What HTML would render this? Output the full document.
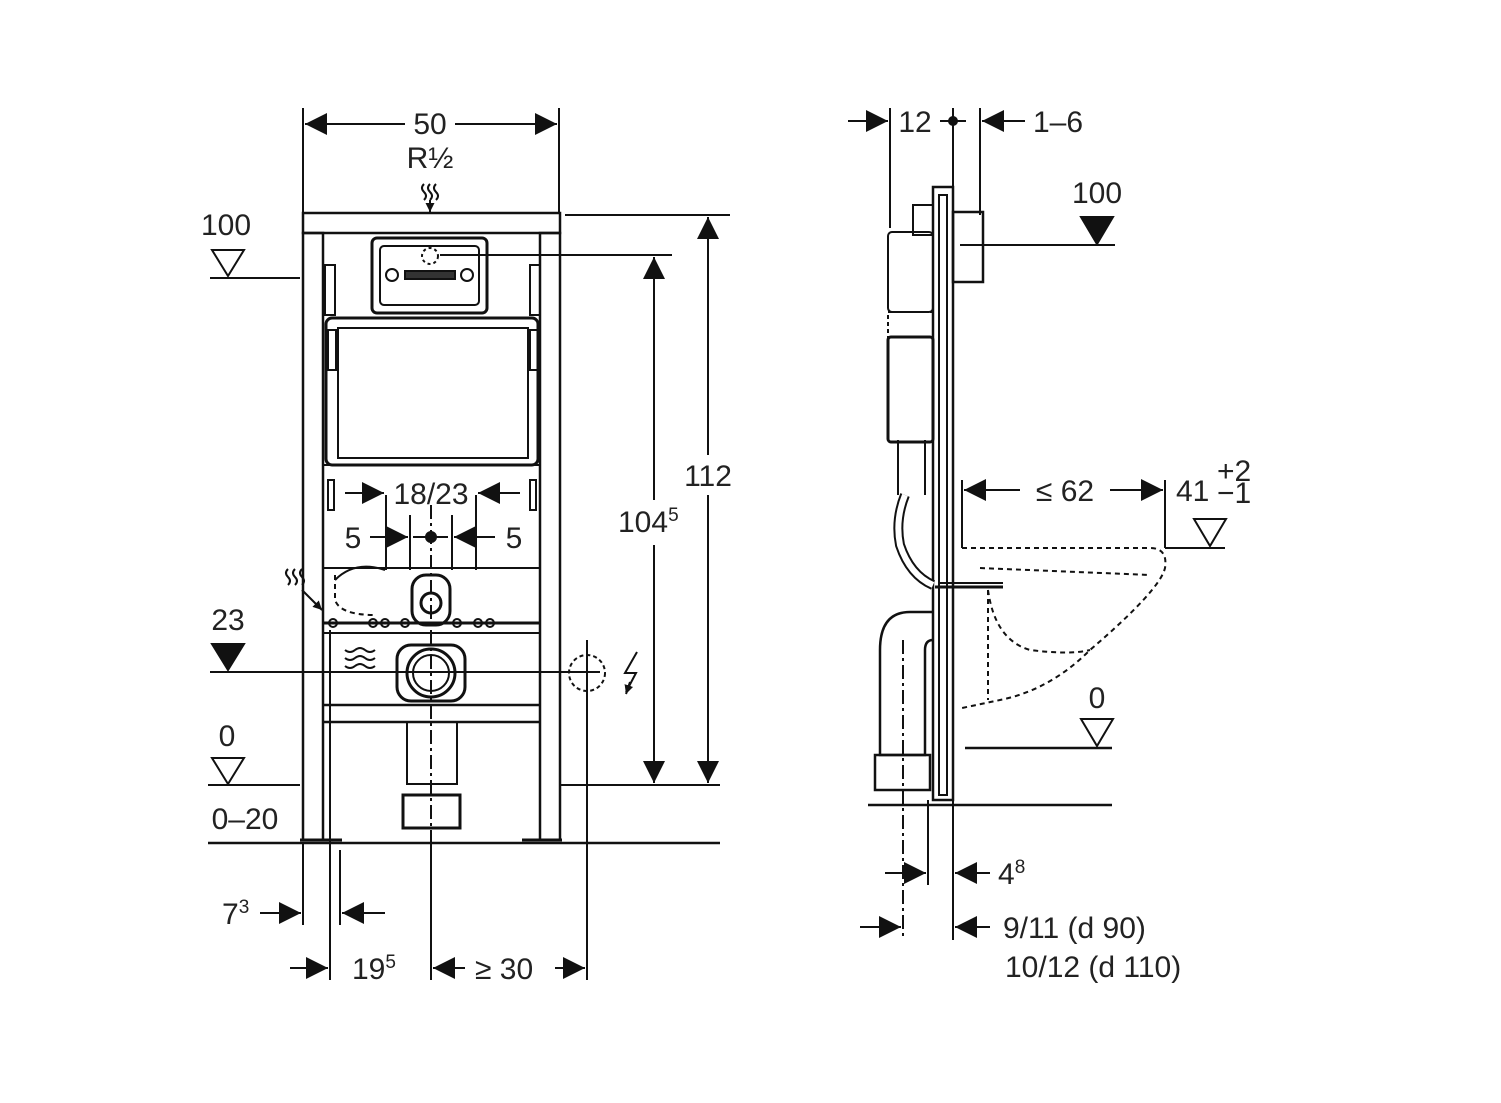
<!DOCTYPE html>
<html><head><meta charset="utf-8"><style>
html,body{margin:0;padding:0;background:#fff;}
svg{display:block}
text{font-family:"Liberation Sans",sans-serif;fill:#222;font-size:30px}
</style></head><body>
<svg width="1501" height="1103" viewBox="0 0 1501 1103" xmlns="http://www.w3.org/2000/svg">
<defs>
<marker id="a" viewBox="0 0 10 10" refX="10" refY="5" markerWidth="9" markerHeight="9" orient="auto-start-reverse" markerUnits="userSpaceOnUse"><path d="M0,0 L10,5 L0,10z" fill="#111"/></marker>
<marker id="b" viewBox="0 0 20 20" refX="20" refY="10" markerWidth="22" markerHeight="22" orient="auto-start-reverse" markerUnits="userSpaceOnUse"><path d="M0,0 L20,10 L0,20z" fill="#111"/></marker>
</defs>
<rect width="1501" height="1103" fill="#fff"/>
<g stroke="#111" stroke-width="2" fill="none">
<line x1="303" y1="108" x2="303" y2="213"/><line x1="559" y1="108" x2="559" y2="213"/>
<line x1="305" y1="124" x2="405" y2="124" marker-start="url(#b)"/><line x1="455" y1="124" x2="557" y2="124" marker-end="url(#b)"/>
<line x1="430" y1="200" x2="430" y2="212" marker-end="url(#a)"/>
<path d="M424,200 q4,-4 0,-8 q-4,-4 0,-8 M430,200 q4,-4 0,-8 q-4,-4 0,-8 M436,200 q4,-4 0,-8 q-4,-4 0,-8"/>
<rect x="303" y="213" width="257" height="20" stroke-width="2.5"/>
<rect x="303" y="233" width="20" height="607" stroke-width="2.5"/>
<rect x="540" y="233" width="20" height="607" stroke-width="2.5"/>
<line x1="300" y1="840" x2="342" y2="840" stroke-width="3"/><line x1="522" y1="840" x2="562" y2="840" stroke-width="3"/>
<rect x="372" y="238" width="115" height="75" rx="5" stroke-width="3"/>
<rect x="380" y="246" width="99" height="59" rx="4"/>
<circle cx="392" cy="275" r="6"/><circle cx="467" cy="275" r="6"/>
<rect x="405" y="271" width="50" height="8" fill="#333"/>
<circle cx="430" cy="256" r="8" stroke-dasharray="3 3"/>
<rect x="326" y="318" width="212" height="147" rx="6" stroke-width="3"/>
<rect x="338" y="328" width="190" height="130"/>
<line x1="323" y1="465" x2="540" y2="465"/>
<line x1="323" y1="568" x2="540" y2="568"/>
<line x1="323" y1="623" x2="540" y2="623" stroke-width="3"/>
<line x1="323" y1="633" x2="540" y2="633"/>
<line x1="323" y1="705" x2="540" y2="705" stroke-width="2.5"/>
<line x1="323" y1="722" x2="540" y2="722" stroke-width="2.5"/>
<rect x="325" y="265" width="10" height="50"/><rect x="530" y="265" width="10" height="50"/>
<rect x="328" y="330" width="8" height="40"/><rect x="530" y="330" width="8" height="40"/>
<rect x="328" y="480" width="6" height="30"/><rect x="530" y="480" width="6" height="30"/>
<rect x="412" y="575" width="38" height="50" rx="14" stroke-width="3"/>
<circle cx="431" cy="603" r="10" stroke-width="3"/>
<rect x="397" y="645" width="68" height="56" rx="14" stroke-width="3"/>
<circle cx="431" cy="673" r="24" stroke-width="3"/>
<circle cx="431" cy="673" r="18"/>
<rect x="407" y="722" width="50" height="62"/>
<rect x="403" y="795" width="57" height="33" stroke-width="3"/>
<line x1="431" y1="505" x2="431" y2="845" stroke-dasharray="14 4 3 4"/>
<circle cx="373" cy="623" r="4"/><circle cx="385" cy="623" r="4"/><circle cx="478" cy="623" r="4"/><circle cx="490" cy="623" r="4"/><circle cx="405" cy="623" r="4"/><circle cx="457" cy="623" r="4"/><circle cx="333" cy="623" r="4"/>
<path d="M335,575 L335,600 Q340,615 375,615" stroke-dasharray="5 4"/>
<path d="M335,580 q20,-20 50,-10" />
<line x1="410" y1="515" x2="410" y2="570"/><line x1="452" y1="515" x2="452" y2="570"/>
<line x1="386" y1="495" x2="386" y2="570"/><line x1="476" y1="495" x2="476" y2="570"/>
<line x1="345" y1="493" x2="384" y2="493" marker-end="url(#b)"/><line x1="520" y1="493" x2="478" y2="493" marker-end="url(#b)"/>
<line x1="370" y1="537" x2="408" y2="537" marker-end="url(#b)"/><line x1="495" y1="537" x2="454" y2="537" marker-end="url(#b)"/>
<circle cx="431" cy="537" r="5" fill="#111"/>
<line x1="413" y1="537" x2="448" y2="537"/>
<line x1="565" y1="215" x2="730" y2="215"/>
<line x1="708" y1="217" x2="708" y2="455" marker-start="url(#b)"/><line x1="708" y1="495" x2="708" y2="783" marker-end="url(#b)"/>
<line x1="440" y1="255" x2="672" y2="255"/>
<line x1="654" y1="257" x2="654" y2="500" marker-start="url(#b)"/><line x1="654" y1="545" x2="654" y2="783" marker-end="url(#b)"/>
<line x1="560" y1="785" x2="720" y2="785"/>
<line x1="208" y1="785" x2="300" y2="785"/>
<line x1="208" y1="843" x2="720" y2="843" stroke-width="2.5"/>
<line x1="210" y1="278" x2="300" y2="278"/>
<line x1="210" y1="672" x2="600" y2="672"/>
<path d="M212,250 L244,250 L228,276z"/>
<path d="M212,758 L244,758 L228,784z"/>
<path d="M212,644 L244,644 L228,670z" fill="#111"/>
<circle cx="587" cy="673" r="18" stroke-dasharray="4 3"/>
<line x1="587" y1="640" x2="587" y2="980"/>
<path d="M637,652 L625,673 L636,673 L626,692" />
<line x1="630" y1="682" x2="626" y2="694" marker-end="url(#a)"/>
<path d="M288,585 q4,-4 0,-8 q-4,-4 0,-8 M295,585 q4,-4 0,-8 q-4,-4 0,-8 M302,585 q4,-4 0,-8 q-4,-4 0,-8"/>
<line x1="302" y1="590" x2="322" y2="610" marker-end="url(#a)"/>
<path d="M345,650 q5,4 10,0 q5,-4 10,0 q5,4 10,0 M345,658 q5,4 10,0 q5,-4 10,0 q5,4 10,0 M345,666 q5,4 10,0 q5,-4 10,0 q5,4 10,0"/>
<line x1="330" y1="630" x2="330" y2="980"/>
<line x1="303" y1="843" x2="303" y2="925"/>
<line x1="340" y1="850" x2="340" y2="925"/>
<line x1="260" y1="913" x2="301" y2="913" marker-end="url(#b)"/><line x1="385" y1="913" x2="342" y2="913" marker-end="url(#b)"/>
<line x1="290" y1="968" x2="328" y2="968" marker-end="url(#b)"/>
<line x1="465" y1="968" x2="433" y2="968" marker-end="url(#b)"/><line x1="555" y1="968" x2="585" y2="968" marker-end="url(#b)"/>
<line x1="431" y1="843" x2="431" y2="980"/>

<line x1="890" y1="108" x2="890" y2="228"/><line x1="953" y1="108" x2="953" y2="190"/><line x1="980" y1="108" x2="980" y2="215"/>
<line x1="848" y1="121" x2="888" y2="121" marker-end="url(#b)"/>
<line x1="1025" y1="121" x2="982" y2="121" marker-end="url(#b)"/>
<circle cx="953" cy="121" r="4" fill="#111"/>
<line x1="940" y1="121" x2="966" y2="121"/>
<rect x="933" y="187" width="20" height="613" stroke-width="2.5"/>
<rect x="939" y="195" width="8" height="600"/>
<rect x="953" y="212" width="30" height="70" stroke-width="2.5"/>
<rect x="888" y="232" width="45" height="80" rx="4"/>
<rect x="913" y="205" width="20" height="30"/>
<rect x="888" y="312" width="45" height="25" stroke-dasharray="4 3"/>
<rect x="888" y="337" width="45" height="105" rx="3" stroke-width="3"/>
<line x1="898" y1="440" x2="898" y2="495"/><line x1="925" y1="440" x2="925" y2="495"/>
<path d="M905,495 Q895,520 900,545 Q910,575 933,585" stroke-width="10" stroke="#111"/>
<path d="M905,495 Q895,520 900,545 Q910,575 933,585" stroke-width="6" stroke="#fff"/>
<path d="M933,612 L910,612 Q880,612 880,650 L880,755 L925,755 L925,650 Q925,640 933,640" stroke-width="2.5"/>
<rect x="875" y="755" width="55" height="35" stroke-width="2.5"/>
<line x1="903" y1="640" x2="903" y2="940" stroke-dasharray="14 4 3 4"/>
<line x1="935" y1="587" x2="1003" y2="587" stroke-width="3"/>
<line x1="940" y1="583" x2="1003" y2="583"/>
<path d="M962,548 L1150,548 Q1168,548 1165,568 Q1160,590 1090,650 Q1050,690 1000,700 L962,708" stroke-dasharray="5 4"/>
<path d="M980,568 L1150,575 M988,590 Q995,640 1030,650 Q1070,655 1090,650 M988,590 L988,700" stroke-dasharray="5 4"/>
<line x1="960" y1="245" x2="1115" y2="245"/>
<path d="M1081,217 L1113,217 L1097,244z" fill="#111"/>
<line x1="962" y1="480" x2="962" y2="548"/><line x1="1165" y1="480" x2="1165" y2="548"/>
<line x1="964" y1="490" x2="1020" y2="490" marker-start="url(#b)"/><line x1="1110" y1="490" x2="1163" y2="490" marker-end="url(#b)"/>
<line x1="1165" y1="548" x2="1225" y2="548"/>
<path d="M1194,519 L1226,519 L1210,546z"/>
<line x1="965" y1="748" x2="1112" y2="748" stroke-width="2.5"/>
<path d="M1081,719 L1113,719 L1097,746z"/>
<line x1="868" y1="805" x2="1112" y2="805" stroke-width="2.5"/>
<line x1="928" y1="800" x2="928" y2="885"/><line x1="953" y1="800" x2="953" y2="940"/>
<line x1="885" y1="873" x2="926" y2="873" marker-end="url(#b)"/><line x1="990" y1="873" x2="955" y2="873" marker-end="url(#b)"/>
<line x1="860" y1="927" x2="901" y2="927" marker-end="url(#b)"/><line x1="990" y1="927" x2="955" y2="927" marker-end="url(#b)"/>
</g>
<text x="430" y="134" text-anchor="middle">50</text>
<text x="430" y="168" text-anchor="middle" font-size="26">R½</text>
<text x="226" y="235" text-anchor="middle">100</text>
<text x="228" y="630" text-anchor="middle">23</text>
<text x="227" y="746" text-anchor="middle">0</text>
<text x="245" y="829" text-anchor="middle">0–20</text>
<text x="431" y="504" text-anchor="middle">18/23</text>
<text x="353" y="548" text-anchor="middle">5</text>
<text x="514" y="548" text-anchor="middle">5</text>
<text x="708" y="486" text-anchor="middle">112</text>
<text x="618" y="532">104<tspan font-size="19" dy="-11">5</tspan></text>
<text x="222" y="924">7<tspan font-size="19" dy="-11">3</tspan></text>
<text x="352" y="979">19<tspan font-size="19" dy="-11">5</tspan></text>
<text x="475" y="979">≥ 30</text>
<text x="915" y="132" text-anchor="middle">12</text>
<text x="1058" y="132" text-anchor="middle">1–6</text>
<text x="1097" y="203" text-anchor="middle">100</text>
<text x="1065" y="501" text-anchor="middle">≤ 62</text>
<text x="1176" y="501">41</text>
<text x="1217" y="481" font-size="16">+2</text>
<text x="1217" y="503" font-size="16">−1</text>
<text x="1097" y="708" text-anchor="middle">0</text>
<text x="998" y="884">4<tspan font-size="19" dy="-11">8</tspan></text>
<text x="1003" y="938">9/11   (d 90)</text>
<text x="1005" y="977">10/12 (d 110)</text>
</svg>
</body></html>
